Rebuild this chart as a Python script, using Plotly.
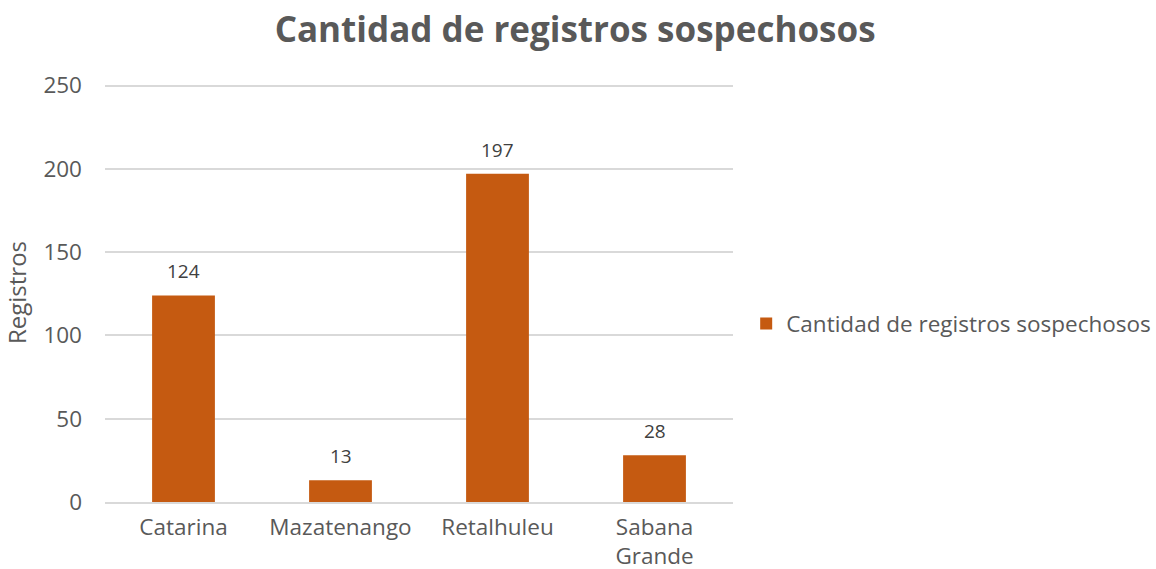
import plotly.graph_objects as go

categories = ["Catarina", "Mazatenango", "Retalhuleu", "Sabana<br>Grande"]
values = [124, 13, 197, 28]
series_name = "Cantidad de registros sospechosos"
title_text = "Cantidad de registros sospechosos"
y_title = "Registros"
y_ticks = [0, 50, 100, 150, 200, 250]

FONT = "Open Sans, Noto Sans, sans-serif"
GRAY = "#595959"
BAR = "#C55A11"

fig = go.Figure()
fig.add_trace(go.Bar(
    x=categories, y=values, name=series_name,
    marker=dict(color=BAR, line=dict(width=0)),
    width=0.4, showlegend=True,
))
for c, v in zip(categories, values):
    fig.add_annotation(x=c, y=v, text=str(v), showarrow=False,
                       yanchor="bottom", yshift=9,
                       font=dict(family=FONT, size=19, color="#404040"))

fig.update_layout(
    width=1156, height=569,
    paper_bgcolor="white", plot_bgcolor="white",
    margin=dict(l=105, r=423, t=83, b=67, autoexpand=False),
    title=dict(text="<b>" + title_text + "</b>", x=0.4975, xanchor="center",
               y=0.947, yanchor="middle",
               font=dict(family=FONT, size=35, color=GRAY)),
    font=dict(family=FONT, color=GRAY),
    showlegend=True,
    legend=dict(x=1.021, xanchor="left", y=0.425, yanchor="middle",
                font=dict(family=FONT, size=22.5, color=GRAY),
                itemwidth=30, bgcolor="rgba(0,0,0,0)"),
)
fig.update_xaxes(showgrid=False, showline=True, linecolor="#D9D9D9", linewidth=1.5,
                 ticks="", ticklabelstandoff=4,
                 tickfont=dict(family=FONT, size=22.5, color=GRAY))
fig.update_yaxes(range=[0, 251.5], tickvals=y_ticks, showgrid=True, gridcolor="#D9D9D9",
                 gridwidth=1.5, zeroline=False, showline=False, ticks="",
                 ticklabelstandoff=22, tickfont=dict(family=FONT, size=22.5, color=GRAY),
                 title=dict(text=y_title, font=dict(family=FONT, size=24, color=GRAY),
                            standoff=12))

fig.write_html("out.html", config={"displayModeBar": False},
               post_script="document.body.style.margin='0';")
